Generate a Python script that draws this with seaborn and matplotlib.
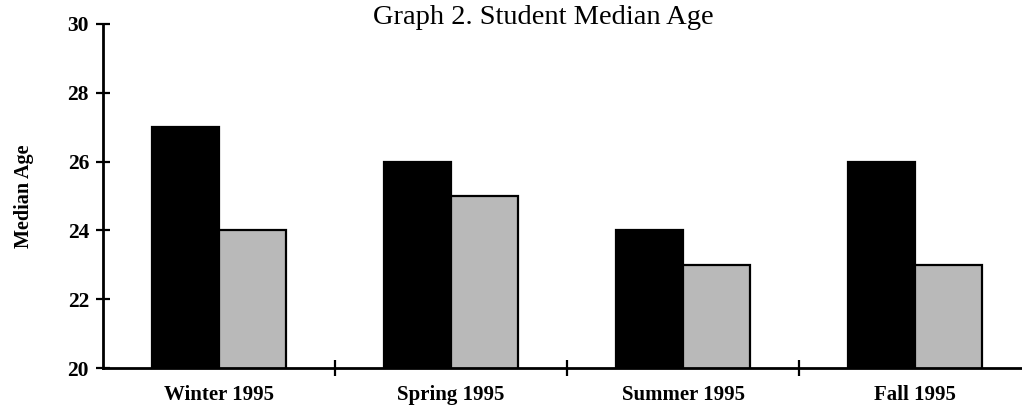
import matplotlib
matplotlib.use("Agg")
import matplotlib.pyplot as plt
import seaborn as sns
import pandas as pd

categories = ["Winter 1995", "Spring 1995", "Summer 1995", "Fall 1995"]
series_names = ["Series 1", "Series 2"]
series1 = [27, 26, 24, 26]
series2 = [24, 25, 23, 23]
yticks = [20, 22, 24, 26, 28, 30]

df = pd.DataFrame({
    "term": categories * 2,
    "group": [series_names[0]] * 4 + [series_names[1]] * 4,
    "age": series1 + series2,
})

sns.set_style("white")
plt.rcParams["font.family"] = ["Liberation Serif", "DejaVu Serif"]
plt.rcParams["text.color"] = "black"
plt.rcParams["xtick.color"] = "black"
plt.rcParams["ytick.color"] = "black"
plt.rcParams["axes.labelcolor"] = "black"

fig = plt.figure(figsize=(10.22, 4.11), dpi=100)
ax = fig.add_axes([103 / 1022, 43 / 411, 1 - 103 / 1022, (368 - 24) / 411])

sns.barplot(data=df, x="term", y="age", hue="group", order=categories,
            hue_order=series_names, palette=["#000000", "#b9b9b9"],
            width=0.58, legend=False, ax=ax, edgecolor="black", linewidth=1.6,
            errorbar=None)

ax.set_ylim(20, 30)
ax.set_xlim(-0.5, 3.5 - 9 / 232)
ax.set_yticks(yticks)
ax.set_yticklabels([str(t) for t in yticks], fontsize=15.5, fontweight="bold")
ax.set_xticks(range(len(categories)))
ax.set_xticklabels(categories, fontsize=15, fontweight="bold")
ax.tick_params(axis="x", which="major", length=0, pad=12, bottom=True)
ax.set_xticks([0.5, 1.5, 2.5], minor=True)
ax.tick_params(axis="x", which="minor", direction="inout", length=12, width=1.6,
               color="black", bottom=True)
ax.tick_params(axis="y", which="major", direction="inout", length=10, width=1.6,
               color="black", pad=5, left=True)

for s in ["top", "right"]:
    ax.spines[s].set_visible(False)
for s in ["left", "bottom"]:
    ax.spines[s].set_linewidth(2)
    ax.spines[s].set_color("black")

ax.set_xlabel("")
ax.set_ylabel("Median Age", fontsize=14.5, fontweight="bold", labelpad=24, color="black")

fig.text(0.532, 0.958, "Graph 2. Student Median Age", ha="center", va="center",
         fontsize=20.5, fontweight="normal", color="black",
         family=["Liberation Serif", "DejaVu Serif"])

fig.savefig("out.png", dpi=100)
